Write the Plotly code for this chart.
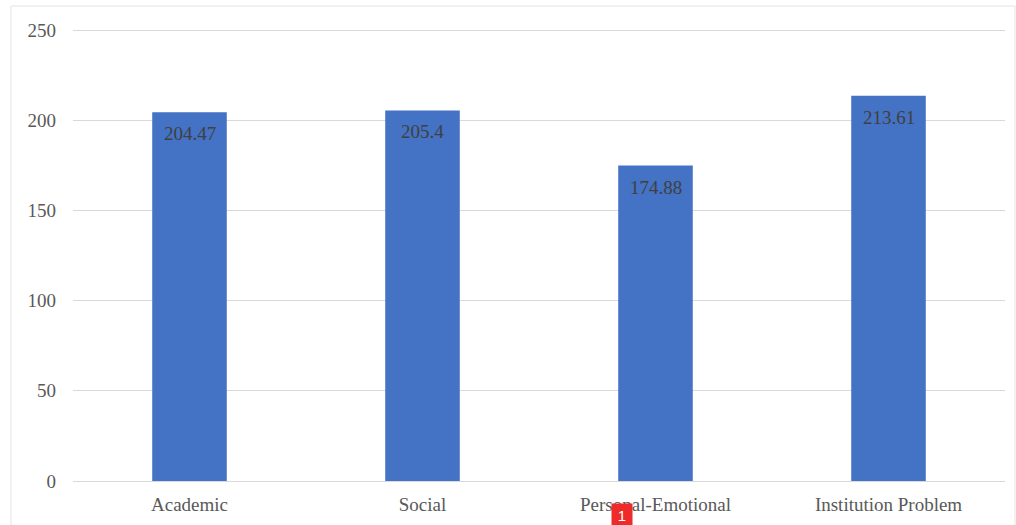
import plotly.graph_objects as go

categories = ["Academic", "Social", "Personal-Emotional", "Institution Problem"]
values = [204.47, 205.4, 174.88, 213.61]
y_ticks = [0, 50, 100, 150, 200, 250]

W, H = 1016, 525
ml, mr, mt, mb = 73, 11, 26, 44
PW, PH = W - ml - mr, H - mt - mb
y_top = 250 * PH / 451.0


def px_x(p):
    return (p - ml) / PW


def px_y(p):
    return (H - mb - p) / PH


fig = go.Figure(go.Bar(
    x=categories, y=values,
    marker=dict(color="#4472C4", line=dict(width=0)),
    hoverinfo="x+y",
))

annotations = [dict(x=c, y=v, xref="x", yref="y", text=str(v), showarrow=False,
                    yanchor="top", yshift=-9,
                    font=dict(family="Liberation Serif", size=19, color="#404040"))
               for c, v in zip(categories, values)]
annotations.append(dict(text="1", xref="paper", yref="paper",
                        x=px_x(622), y=px_y(515), yanchor="middle",
                        showarrow=False, bgcolor="#ee2b2b",
                        font=dict(family="Liberation Sans", size=15, color="white"),
                        width=20, height=22, borderpad=0))

fig.update_layout(
    width=W, height=H, margin=dict(l=ml, r=mr, t=mt, b=mb),
    paper_bgcolor="white", plot_bgcolor="white",
    bargap=0.68, showlegend=False,
    font=dict(family="Liberation Serif", size=19, color="#595959"),
    xaxis=dict(showgrid=False, showline=True, linecolor="#d9d9d9", linewidth=1,
               ticks="", ticklabelstandoff=6, tickfont=dict(size=19, color="#595959")),
    yaxis=dict(range=[0, y_top], tickvals=y_ticks, showgrid=True, gridcolor="#d9d9d9",
               gridwidth=1, zeroline=False, showline=False, ticks="",
               ticklabelstandoff=16, tickfont=dict(size=19, color="#595959")),
    shapes=[dict(type="rect", xref="paper", yref="paper",
                 x0=px_x(11), x1=px_x(1015), y0=px_y(535), y1=px_y(6),
                 line=dict(color="#e3e3e3", width=1), fillcolor="rgba(0,0,0,0)", layer="below")],
    annotations=annotations,
)

fig.write_html("out.html")
